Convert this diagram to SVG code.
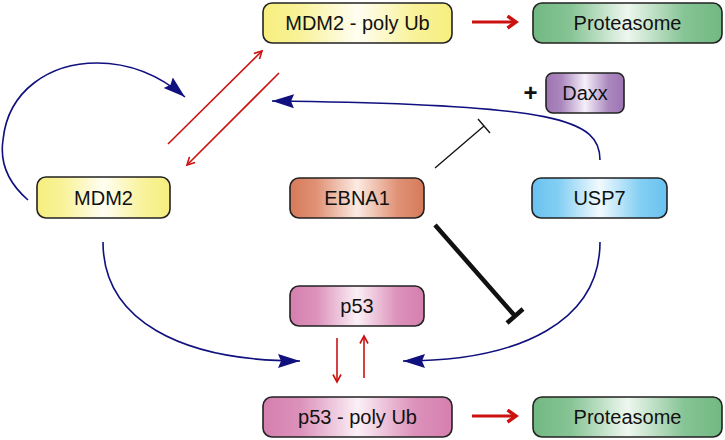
<svg xmlns="http://www.w3.org/2000/svg" width="725" height="440" viewBox="0 0 725 440">
<defs>
<style>
.box{stroke:#222;stroke-width:1.6}
.lbl{font-family:"Liberation Sans",Arial,sans-serif;font-size:20px;fill:#111;text-anchor:middle}
.blue{fill:none;stroke:#10107e;stroke-width:1.6}
.red{fill:none;stroke:#cc1111;stroke-width:1.6}
.redthick{fill:none;stroke:#cc1111;stroke-width:3.2}
.inh{stroke:#111;fill:none}
</style>
<linearGradient id="gY" x1="0" x2="1" y1="0" y2="0"><stop offset="0" stop-color="#f7ee7e"/><stop offset="0.2" stop-color="#f9f29a"/><stop offset="0.5" stop-color="#fffef2"/><stop offset="0.8" stop-color="#f9f29a"/><stop offset="1" stop-color="#f7ee7e"/></linearGradient>
<linearGradient id="gG" x1="0" x2="1" y1="0" y2="0"><stop offset="0" stop-color="#72b882"/><stop offset="0.2" stop-color="#86c495"/><stop offset="0.5" stop-color="#eef7ef"/><stop offset="0.8" stop-color="#86c495"/><stop offset="1" stop-color="#72b882"/></linearGradient>
<linearGradient id="gO" x1="0" x2="1" y1="0" y2="0"><stop offset="0" stop-color="#d67a5a"/><stop offset="0.2" stop-color="#e09276"/><stop offset="0.5" stop-color="#fcebe3"/><stop offset="0.8" stop-color="#e09276"/><stop offset="1" stop-color="#d67a5a"/></linearGradient>
<linearGradient id="gB" x1="0" x2="1" y1="0" y2="0"><stop offset="0" stop-color="#68c2f0"/><stop offset="0.2" stop-color="#84cff3"/><stop offset="0.5" stop-color="#f2fafe"/><stop offset="0.8" stop-color="#84cff3"/><stop offset="1" stop-color="#68c2f0"/></linearGradient>
<linearGradient id="gP" x1="0" x2="1" y1="0" y2="0"><stop offset="0" stop-color="#d57fae"/><stop offset="0.2" stop-color="#dc92bb"/><stop offset="0.5" stop-color="#fbf0f6"/><stop offset="0.8" stop-color="#dc92bb"/><stop offset="1" stop-color="#d57fae"/></linearGradient>
<linearGradient id="gV" x1="0" x2="1" y1="0" y2="0"><stop offset="0" stop-color="#9c74b2"/><stop offset="0.2" stop-color="#ab88be"/><stop offset="0.5" stop-color="#f5effa"/><stop offset="0.8" stop-color="#ab88be"/><stop offset="1" stop-color="#9c74b2"/></linearGradient>
<marker id="blueHead" markerUnits="userSpaceOnUse" markerWidth="24" markerHeight="16" refX="22" refY="7" orient="auto"><path d="M0,0 L22,7 L0,14 L3,7 z" fill="#10107e"/></marker>
<marker id="redOpen" markerUnits="userSpaceOnUse" markerWidth="12" markerHeight="12" refX="8.5" refY="5" orient="auto"><path d="M1,1 L8.5,5 L1,9" fill="none" stroke="#cc1111" stroke-width="1.6"/></marker>
<marker id="redThick" markerUnits="userSpaceOnUse" markerWidth="14" markerHeight="16" refX="10" refY="7" orient="auto"><path d="M1.5,1 L10,7 L1.5,13" fill="none" stroke="#cc1111" stroke-width="3.4"/></marker>
</defs>
<rect width="725" height="440" fill="#fff"/>

<g id="connectors">
<path class="blue" d="M28,200 C5,180 0,160 3,140 C8,90 50,63 97,63 C135,63 165,80 185,97" marker-end="url(#blueHead)"/>
<path class="blue" d="M600,160 C600,120 560,104 272,101" marker-end="url(#blueHead)"/>
<path class="blue" d="M103,242 C103,320 180,361 300,361" marker-end="url(#blueHead)"/>
<path class="blue" d="M600,242 C600,320 523,361 403,361" marker-end="url(#blueHead)"/>
<path class="red" d="M168,144 L262,51" marker-end="url(#redOpen)"/>
<path class="red" d="M279,73 L187,165" marker-end="url(#redOpen)"/>
<path class="red" d="M337,338 L337,382" marker-end="url(#redOpen)"/>
<path class="red" d="M364,378 L364,336" marker-end="url(#redOpen)"/>
<path class="redthick" d="M472,22 L516,22" marker-end="url(#redThick)"/>
<path class="redthick" d="M472,416 L516,416" marker-end="url(#redThick)"/>
<path class="inh" stroke-width="1.3" d="M435,168 L484,126 M478,119 L490,133"/>
<path class="inh" stroke-width="4.5" d="M435,225 L515,316 M507,323 L523,309"/>
</g>

<g id="mdm2polyub"><rect class="box" x="263" y="3" width="189" height="40" rx="9" fill="url(#gY)"/><text class="lbl" x="357.5" y="30">MDM2 - poly Ub</text></g>
<g id="proteasome1"><rect class="box" x="533" y="3" width="189" height="40" rx="9" fill="url(#gG)"/><text class="lbl" x="627.5" y="30">Proteasome</text></g>
<g id="daxx"><rect class="box" x="546" y="73" width="78" height="40" rx="7" fill="url(#gV)"/><text class="lbl" x="585" y="100">Daxx</text><text x="530.5" y="101" style="font-family:'Liberation Sans',Arial,sans-serif;font-size:24px;font-weight:bold;fill:#111;text-anchor:middle">+</text></g>
<g id="mdm2"><rect class="box" x="37" y="177" width="133" height="41" rx="9" fill="url(#gY)"/><text class="lbl" x="103.5" y="204.5">MDM2</text></g>
<g id="ebna1"><rect class="box" x="290" y="178" width="134" height="40" rx="9" fill="url(#gO)"/><text class="lbl" x="357" y="205">EBNA1</text></g>
<g id="usp7"><rect class="box" x="532" y="178" width="135" height="40" rx="9" fill="url(#gB)"/><text class="lbl" x="599.5" y="205">USP7</text></g>
<g id="p53"><rect class="box" x="290" y="286" width="134" height="40" rx="9" fill="url(#gP)"/><text class="lbl" x="357" y="313">p53</text></g>
<g id="p53polyub"><rect class="box" x="263" y="397" width="189" height="40" rx="9" fill="url(#gP)"/><text class="lbl" x="357.5" y="424">p53 - poly Ub</text></g>
<g id="proteasome2"><rect class="box" x="533" y="397" width="189" height="40" rx="9" fill="url(#gG)"/><text class="lbl" x="627.5" y="424">Proteasome</text></g>
</svg>
